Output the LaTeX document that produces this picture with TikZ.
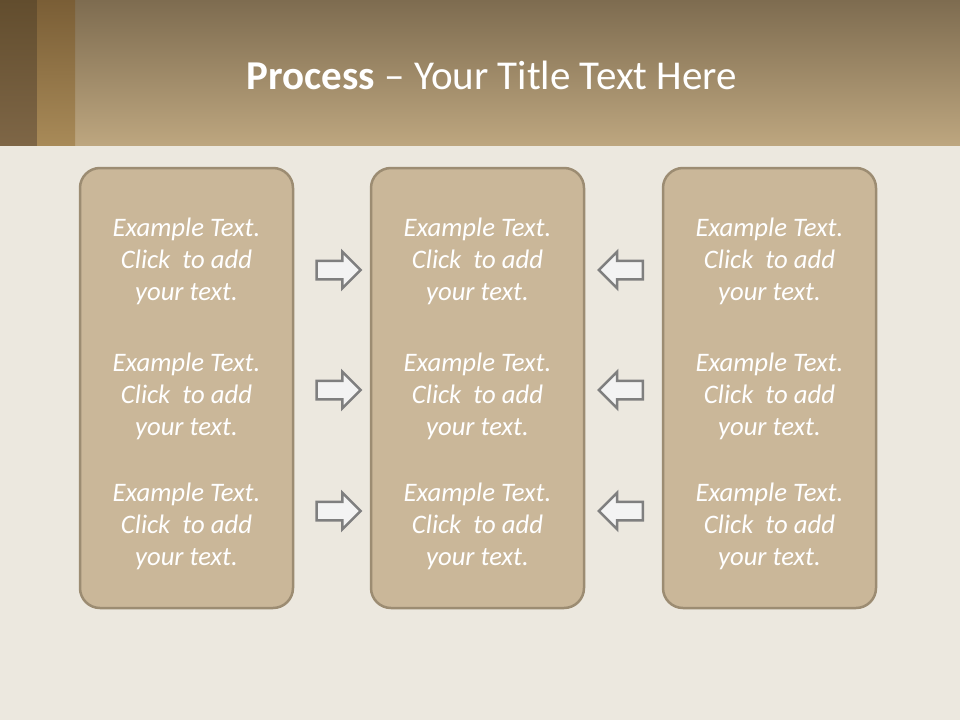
\documentclass[tikz,border=0pt]{standalone}
\usepackage{fontspec}
\setmainfont{Carlito}
\usetikzlibrary{shapes.arrows}

\definecolor{paper}{HTML}{ECE8DF}
\definecolor{bandtop}{HTML}{7E6C50}
\definecolor{bandbot}{HTML}{BDA67F}
\definecolor{stripatop}{HTML}{624D2E}
\definecolor{stripabot}{HTML}{7E6646}
\definecolor{stripbtop}{HTML}{7A5E36}
\definecolor{stripbbot}{HTML}{A88A58}
\definecolor{boxfill}{HTML}{CAB799}
\definecolor{boxline}{HTML}{9C8C72}
\definecolor{arrowfill}{HTML}{F3F3F3}
\definecolor{arrowline}{HTML}{7F7F7F}

\begin{document}
\begin{tikzpicture}[x=1pt, y=-1pt,
  panel/.style={draw=boxline, line width=2.5pt, fill=boxfill, rounded corners=20pt,
    minimum width=213pt, minimum height=440pt, inner sep=0pt},
  blurb/.style={text=white, font=\fontsize{26.7}{32}\selectfont\itshape, align=center},
  fwd/.style={single arrow, draw=arrowline, fill=arrowfill, line width=2.5pt,
    minimum height=44pt, inner xsep=0pt, inner ysep=8pt, text height=0pt, text depth=0pt,
    single arrow head extend=9pt},
  back/.style={fwd, shape border rotate=180}]
  \fill[paper] (0,0) rectangle (960,720);
  \useasboundingbox (0,0) rectangle (960,720);
  % header band
  \shade[top color=bandtop, bottom color=bandbot] (0,0) rectangle (960,145);
  \shade[top color=stripatop, bottom color=stripabot] (0,0) rectangle (37,145);
  \shade[top color=stripbtop, bottom color=stripbbot] (37,0) rectangle (75,145);
  \node[text=white, font=\fontsize{41}{48}\selectfont] (title) at (492,75)
    {\textbf{Process} – Your Title Text Here};

  % three panels
  \foreach \col/\cx in {left/186.5, mid/477.5, right/769.5}
  {
    \node[panel] (\col) at (\cx,388) {};
    \foreach \row/\cy in {1/261, 2/396, 3/526}
      \node[blurb] (\col-\row) at (\cx,\cy) {Example Text.\\Click~ to add\\your text.};
  }

  % arrows between panels
  \foreach \row/\cy in {1/270, 2/390, 3/511}
  {
    \node[fwd] (fwd-\row) at (334,\cy) {};
    \node[back] (back-\row) at (625.5,\cy) {};
  }
\end{tikzpicture}
\end{document}
